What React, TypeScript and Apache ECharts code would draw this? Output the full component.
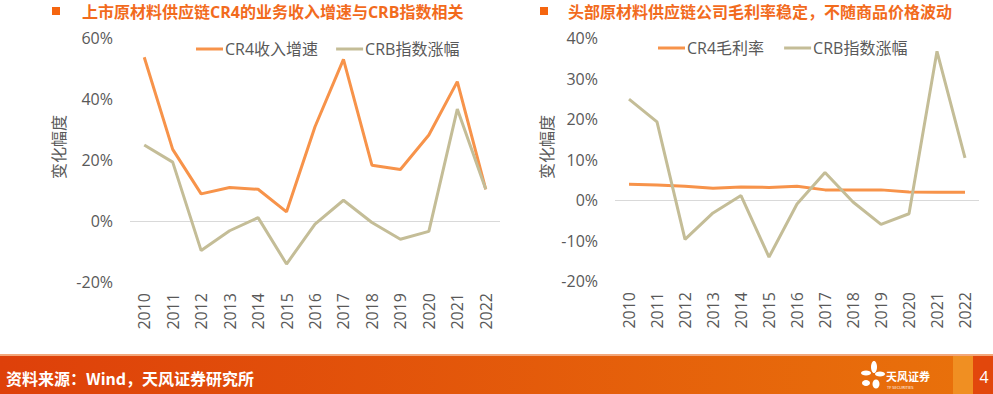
import React, { useEffect, useRef } from "react";
import * as echarts from "echarts";

const years = ["2010","2011","2012","2013","2014","2015","2016","2017","2018","2019","2020","2021","2022"];
const cr4Revenue = [53.7, 23.5, 8.9, 11.0, 10.4, 3.0, 30.9, 53.0, 18.3, 16.9, 28.2, 45.7, 10.4];
const crbChange = [24.9, 19.3, -9.7, -3.2, 1.1, -14.1, -1.0, 6.8, -0.5, -6.0, -3.4, 36.7, 10.4];
const cr4Margin = [3.9, 3.7, 3.4, 2.9, 3.2, 3.1, 3.4, 2.5, 2.5, 2.5, 2.0, 1.9, 1.9];

const titleLeft = "上市原材料供应链CR4的业务收入增速与CRB指数相关";
const titleRight = "头部原材料供应链公司毛利率稳定，不随商品价格波动";
const legendLeft = ["CR4收入增速", "CRB指数涨幅"];
const legendRight = ["CR4毛利率", "CRB指数涨幅"];
const axisName = "变化幅度";
const sourceText = "资料来源：Wind，天风证券研究所";

const ORANGE = "#F7934A";
const TAN = "#C4BD97";
const GRAY = "#595959";
const FONT = "'Open Sans','Noto Sans CJK SC',sans-serif";

export default function App() {
  const ref = useRef<HTMLDivElement>(null);
  useEffect(() => {
    const chart = echarts.init(ref.current!, undefined, { renderer: "svg" });
    const yLabel = { color: GRAY, fontSize: 16, fontFamily: FONT, formatter: "{value}%", margin: 17 };
    const xLabel = { color: GRAY, fontSize: 16, fontFamily: FONT, rotate: 90, margin: 11, interval: 0 };
    chart.setOption({
      animation: false,
      textStyle: { fontFamily: FONT },
      grid: [
        { left: 130, top: 38, width: 370, height: 244 },
        { left: 615, top: 38, width: 364, height: 243 },
      ],
      xAxis: [
        { type: "category", gridIndex: 0, data: years, boundaryGap: true, axisLine: { show: false }, axisTick: { show: false }, axisLabel: xLabel },
        { type: "category", gridIndex: 1, data: years, boundaryGap: true, axisLine: { show: false }, axisTick: { show: false }, axisLabel: xLabel },
      ],
      yAxis: [
        {
          type: "value", gridIndex: 0, min: -20, max: 60, interval: 20,
          axisLine: { show: false }, axisTick: { show: false }, axisLabel: yLabel,
          splitLine: { show: true, lineStyle: { color: ["transparent", "#D9D9D9", "transparent", "transparent", "transparent"], width: 1 } },
        },
        {
          type: "value", gridIndex: 1, min: -20, max: 40, interval: 10,
          axisLine: { show: false }, axisTick: { show: false }, axisLabel: yLabel,
          splitLine: { show: true, lineStyle: { color: ["transparent", "transparent", "#D9D9D9", "transparent", "transparent", "transparent", "transparent"], width: 1 } },
        },
      ],
      legend: [
        {
          data: legendLeft, left: 191, top: 36, icon: "rect", itemWidth: 27, itemHeight: 3, itemGap: 18,
          textStyle: { color: GRAY, fontSize: 16, fontFamily: FONT, padding: [0, 0, 0, -3] },
        },
        {
          data: legendRight.map((n) => ({ name: n })), left: 653, top: 35, icon: "rect", itemWidth: 27, itemHeight: 3, itemGap: 20,
          textStyle: { color: GRAY, fontSize: 16, fontFamily: FONT, padding: [0, 0, 0, -3] },
        },
      ],
      series: [
        { name: legendLeft[0], type: "line", xAxisIndex: 0, yAxisIndex: 0, data: cr4Revenue, symbol: "none", lineStyle: { color: ORANGE, width: 3 }, itemStyle: { color: ORANGE } },
        { name: legendLeft[1], type: "line", xAxisIndex: 0, yAxisIndex: 0, data: crbChange, symbol: "none", lineStyle: { color: TAN, width: 3 }, itemStyle: { color: TAN } },
        { name: legendRight[0], type: "line", xAxisIndex: 1, yAxisIndex: 1, data: cr4Margin, symbol: "none", lineStyle: { color: ORANGE, width: 3 }, itemStyle: { color: ORANGE } },
        { name: legendRight[1], type: "line", xAxisIndex: 1, yAxisIndex: 1, data: crbChange, symbol: "none", lineStyle: { color: TAN, width: 3 }, itemStyle: { color: TAN } },
      ],
      graphic: [
        { type: "rect", shape: { x: 52, y: 7, width: 8, height: 8 }, style: { fill: "#F5650F" } },
        { type: "text", x: 82, y: 12, style: { text: titleLeft, fill: "#F26B1D", font: `bold 16px ${FONT}`, textVerticalAlign: "middle" } },
        { type: "rect", shape: { x: 540, y: 7, width: 8, height: 8 }, style: { fill: "#F5650F" } },
        { type: "text", x: 568, y: 12, style: { text: titleRight, fill: "#F26B1D", font: `bold 16px ${FONT}`, textVerticalAlign: "middle" } },
        { type: "text", x: 59, y: 147, rotation: Math.PI / 2, style: { text: axisName, fill: GRAY, font: `16px ${FONT}`, textAlign: "center", textVerticalAlign: "middle" } },
        { type: "text", x: 547, y: 147, rotation: Math.PI / 2, style: { text: axisName, fill: GRAY, font: `16px ${FONT}`, textAlign: "center", textVerticalAlign: "middle" } },
        // footer
        { type: "rect", shape: { x: 0, y: 354, width: 993, height: 2 }, style: { fill: "#F3A77A" } },
        {
          type: "rect", shape: { x: 0, y: 356, width: 993, height: 38 },
          style: { fill: new echarts.graphic.LinearGradient(0, 0, 1, 0, [{ offset: 0, color: "#DE400A" }, { offset: 1, color: "#E9720B" }]) },
        },
        { type: "rect", shape: { x: 953, y: 356, width: 20, height: 38 }, style: { fill: "#F08F22" } },
        { type: "rect", shape: { x: 973, y: 356, width: 20, height: 38 }, style: { fill: "#E2470C" } },
        { type: "text", x: 984, y: 377, style: { text: "4", fill: "#FFFFFF", font: `16px ${FONT}`, textAlign: "center", textVerticalAlign: "middle" } },
        { type: "text", x: 6, y: 378, style: { text: sourceText, fill: "#FFFFFF", font: `bold 16px 'Noto Sans CJK SC',sans-serif`, textVerticalAlign: "middle" } },
        // logo petals
        { type: "ellipse", shape: { cx: 874, cy: 367, rx: 3, ry: 6 }, style: { fill: "#FFFFFF" } },
        { type: "ellipse", shape: { cx: 866, cy: 373, rx: 5, ry: 2.5 }, style: { fill: "#FFFFFF" } },
        { type: "ellipse", shape: { cx: 880, cy: 374, rx: 5, ry: 2.5 }, style: { fill: "#FFFFFF" } },
        { type: "ellipse", shape: { cx: 866, cy: 383, rx: 4, ry: 3 }, style: { fill: "#FFFFFF" } },
        { type: "ellipse", shape: { cx: 876, cy: 384, rx: 3.5, ry: 4.5 }, style: { fill: "#FFFFFF" } },
        { type: "text", x: 886, y: 376, style: { text: "天风证券", fill: "#FFFFFF", font: `bold 11px 'Noto Sans CJK SC',sans-serif`, textVerticalAlign: "middle" } },
        { type: "text", x: 887, y: 387, style: { text: "TF SECURITIES", fill: "#FFFFFF", font: `4px ${FONT}`, textVerticalAlign: "middle" } },
      ],
    });
    return () => chart.dispose();
  }, []);
  return <div ref={ref} style={{ position: "fixed", left: 0, top: 0, width: 993, height: 394, background: "#FFFFFF" }} />;
}
